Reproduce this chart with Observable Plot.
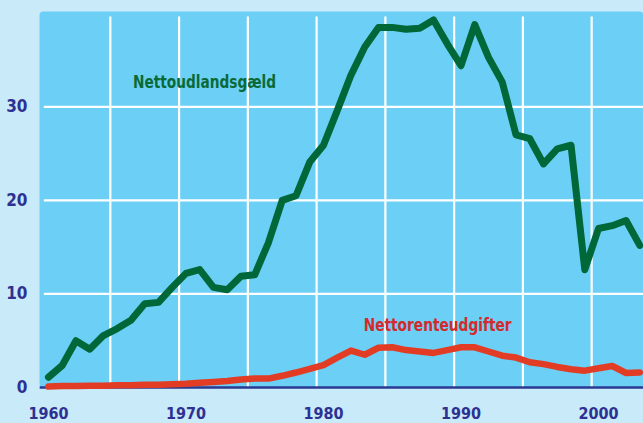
<!DOCTYPE html>
<html>
<head>
<meta charset="utf-8">
<script src="https://cdn.jsdelivr.net/npm/d3@7"></script>
<script src="https://cdn.jsdelivr.net/npm/@observablehq/plot@0.6"></script>
<style>
  html, body { margin: 0; padding: 0; background: #c8eaf9; }
  #chart svg { display: block; }
  #chart svg text { font-stretch: condensed; }
</style>
</head>
<body>
<div id="chart"></div>
<script>
const years = d3.range(1960, 2004);
const nettoudlandsgaeld = [
  1.1, 2.35, 5.0, 4.1, 5.55, 6.3, 7.2, 8.95, 9.1, 10.7,
  12.2, 12.6, 10.7, 10.45, 11.9, 12.05, 15.5, 20.0, 20.5, 24.1,
  25.9, 29.6, 33.4, 36.4, 38.5, 38.5, 38.3, 38.4, 39.3, 36.75,
  34.4, 38.8, 35.3, 32.65, 27.0, 26.6, 23.9, 25.5, 25.9, 12.6,
  17.0, 17.3, 17.85, 15.2
];
const nettorenteudgifter = [
  0.1, 0.15, 0.15, 0.2, 0.2, 0.25, 0.25, 0.3, 0.3, 0.35,
  0.4, 0.5, 0.6, 0.7, 0.85, 0.95, 0.95, 1.25, 1.6, 2.0,
  2.4, 3.2, 3.95, 3.5, 4.25, 4.3, 4.0, 3.85, 3.7, 4.0,
  4.3, 4.3, 3.85, 3.4, 3.2, 2.7, 2.5, 2.2, 1.95, 1.8,
  2.05, 2.3, 1.55, 1.6
];
const yTicks = [0, 10, 20, 30];
const xTicks = [1960, 1970, 1980, 1990, 2000];
const gridYears = [1964.5, 1969.5, 1974.5, 1979.5, 1984.5, 1989.5, 1994.5, 1999.5];
const labelTexts = ["Nettoudlandsgæld", "Nettorenteudgifter"];
const labelX = [1971.35, 1988.3];
const labelY = [32.6, 6.6];
const labelColors = ["#0a6a37", "#d42a2c"];
const labelWidths = [143, 148];

const labels = labelTexts.map((t, i) => ({text: t, x: labelX[i], y: labelY[i], color: labelColors[i]}));
const debt = years.map((y, i) => ({year: y, value: nettoudlandsgaeld[i]}));
const interest = years.map((y, i) => ({year: y, value: nettorenteudgifter[i]}));

const font = '"DejaVu Sans Condensed", "DejaVu Sans", sans-serif';

const chart = Plot.plot({
  width: 643,
  height: 423,
  marginLeft: 39,
  marginRight: 0,
  marginTop: 11,
  marginBottom: 36,
  style: {background: "#c8eaf9", fontFamily: font, overflow: "visible"},
  x: {domain: [1959.35, 2003.27]},
  y: {domain: [0, 40.2]},
  marks: [
    Plot.frame({fill: "#6ccff5", stroke: null, rx: 4}),
    Plot.ruleX(gridYears, {x: d => d, y1: 0, y2: 39.6, stroke: "white", strokeWidth: 2.2}),
    Plot.ruleY(yTicks.filter(d => d > 0), {y: d => d, x1: 1959.7, x2: 2003.27, stroke: "white", strokeWidth: 2.2}),
    Plot.ruleY([0], {x1: 1959.4, x2: 2003.27, stroke: "#2b3990", strokeWidth: 2.5}),
    Plot.line(interest, {x: "year", y: "value", stroke: "#e23d24", strokeWidth: 6.5, strokeLinejoin: "round", strokeLinecap: "round"}),
    Plot.line(debt, {x: "year", y: "value", stroke: "#006838", strokeWidth: 7, strokeLinejoin: "round", strokeLinecap: "round"}),
    Plot.text(labels, {x: "x", y: "y", text: "text", fill: "color", fontSize: 17, fontWeight: "bold", fontFamily: font}),
    Plot.axisY({ticks: yTicks, tickSize: 0, tickPadding: 12, label: null, fontSize: 17, fontWeight: "bold", fill: "#2e3192", fontFamily: font}),
    Plot.axisX({ticks: xTicks, tickSize: 0, tickPadding: 20, label: null, tickFormat: d => String(d), fontSize: 16, fontWeight: "bold", fill: "#2e3192", fontFamily: font})
  ]
});
d3.select(chart).selectAll("text").each(function () {
  const i = labelTexts.indexOf(this.textContent);
  if (i >= 0) {
    this.setAttribute("textLength", labelWidths[i]);
    this.setAttribute("lengthAdjust", "spacingAndGlyphs");
  }
});
document.getElementById("chart").appendChild(chart);
</script>
</body>
</html>
